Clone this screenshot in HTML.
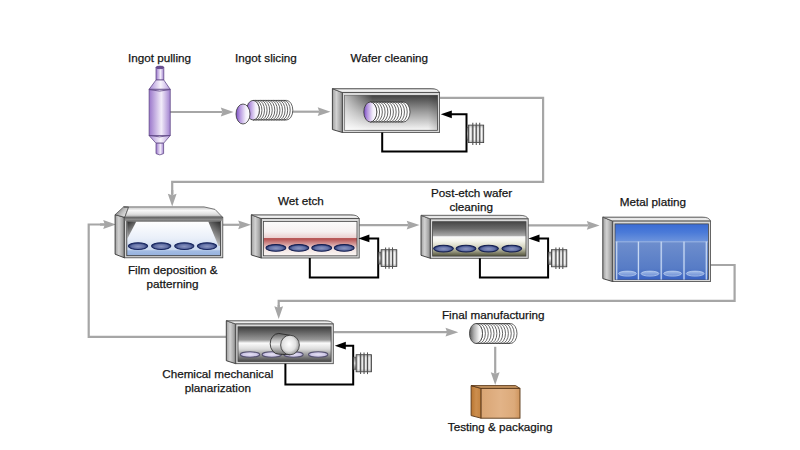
<!DOCTYPE html>
<html><head><meta charset="utf-8"><style>
html,body{margin:0;padding:0;background:#fff;}
svg{display:block;}
text{font-family:"Liberation Sans",sans-serif;fill:#151515;stroke:#151515;stroke-width:0.25px;}
</style></head><body>
<svg width="800" height="450" viewBox="0 0 800 450">
<rect width="800" height="450" fill="#fff"/>

<defs>
<linearGradient id="side" x1="0" y1="0" x2="1" y2="0">
 <stop offset="0" stop-color="#9e9e9e"/><stop offset="0.4" stop-color="#d2d2d2"/><stop offset="0.8" stop-color="#a4a4a4"/><stop offset="1" stop-color="#707070"/>
</linearGradient>
<linearGradient id="topf" x1="0" y1="0" x2="0" y2="1">
 <stop offset="0" stop-color="#9a9a9a"/><stop offset="0.4" stop-color="#f4f4f4"/><stop offset="1" stop-color="#d8d8d8"/>
</linearGradient>
<linearGradient id="topfilm" x1="0" y1="0" x2="0" y2="1">
 <stop offset="0" stop-color="#c4c4c4"/><stop offset="0.35" stop-color="#f8f8f8"/><stop offset="0.7" stop-color="#e0e0e0"/><stop offset="1" stop-color="#a8a8a8"/>
</linearGradient>
<linearGradient id="filmBand" x1="0" y1="0" x2="0" y2="1">
 <stop offset="0" stop-color="#6a6a6a"/><stop offset="1" stop-color="#a8a8a8"/>
</linearGradient>
<linearGradient id="bevel" x1="0" y1="0" x2="1" y2="0.6">
 <stop offset="0" stop-color="#5a5a5a"/><stop offset="0.6" stop-color="#bdbdbd"/><stop offset="1" stop-color="#e8e8e8"/>
</linearGradient>
<linearGradient id="inWC" x1="0" y1="0" x2="0" y2="1">
 <stop offset="0" stop-color="#434343"/><stop offset="0.5" stop-color="#a2a2a2"/><stop offset="1" stop-color="#f8f8f8"/>
</linearGradient>
<linearGradient id="inWCh" x1="0" y1="0" x2="1" y2="0">
 <stop offset="0" stop-color="#fff" stop-opacity="0.65"/><stop offset="0.3" stop-color="#fff" stop-opacity="0"/><stop offset="0.9" stop-color="#000" stop-opacity="0"/><stop offset="1" stop-color="#000" stop-opacity="0.15"/>
</linearGradient>
<linearGradient id="inFilm" x1="0" y1="0" x2="0" y2="1">
 <stop offset="0" stop-color="#ffffff"/><stop offset="0.5" stop-color="#e9eff9"/><stop offset="0.82" stop-color="#cbd9ef"/><stop offset="0.86" stop-color="#a3bce3"/><stop offset="1" stop-color="#95b1de"/>
</linearGradient>
<linearGradient id="curtL" x1="0" y1="0" x2="0.4" y2="1">
 <stop offset="0" stop-color="#2e2e2e"/><stop offset="1" stop-color="#bdbdbd"/>
</linearGradient>
<linearGradient id="curtR" x1="1" y1="0" x2="0.6" y2="1">
 <stop offset="0" stop-color="#2e2e2e"/><stop offset="0.6" stop-color="#8a8a8a"/><stop offset="1" stop-color="#d5d5d5"/>
</linearGradient>
<linearGradient id="inWet" x1="0" y1="0" x2="0" y2="1">
 <stop offset="0" stop-color="#fbfbfb"/><stop offset="0.3" stop-color="#f6f0f0"/><stop offset="0.47" stop-color="#ecd2d2"/><stop offset="0.5" stop-color="#b34c4c"/><stop offset="0.66" stop-color="#d59a9a"/><stop offset="0.8" stop-color="#f2e2e0"/><stop offset="1" stop-color="#fbf7f5"/>
</linearGradient>
<linearGradient id="inPost" x1="0" y1="0" x2="0" y2="1">
 <stop offset="0" stop-color="#474747"/><stop offset="0.2" stop-color="#6a6a6a"/><stop offset="0.4" stop-color="#a6a6a6"/><stop offset="0.44" stop-color="#f8f8f8"/><stop offset="0.56" stop-color="#f6f6ee"/><stop offset="0.75" stop-color="#d2d2bc"/><stop offset="1" stop-color="#52523a"/>
</linearGradient>
<linearGradient id="inCMP" x1="0" y1="0" x2="0" y2="1">
 <stop offset="0" stop-color="#3e3e3e"/><stop offset="0.38" stop-color="#9a9a9a"/><stop offset="0.47" stop-color="#fbfbfb"/><stop offset="0.64" stop-color="#dcdcdc"/><stop offset="1" stop-color="#484848"/>
</linearGradient>
<linearGradient id="inMetal" x1="0" y1="0" x2="0" y2="1">
 <stop offset="0" stop-color="#3a6bd4"/><stop offset="0.15" stop-color="#4a7ad8"/><stop offset="0.33" stop-color="#7096dc"/><stop offset="0.34" stop-color="#5a86d6"/><stop offset="1" stop-color="#2f5cc0"/>
</linearGradient>
<linearGradient id="tank" x1="0" y1="0" x2="0" y2="1">
 <stop offset="0" stop-color="#6e8ecd"/><stop offset="0.7" stop-color="#577cc6"/><stop offset="0.85" stop-color="#4a70c2"/><stop offset="1" stop-color="#3862c4"/>
</linearGradient>
<linearGradient id="sep" x1="0" y1="0" x2="1" y2="0">
 <stop offset="0" stop-color="#c8dbf6" stop-opacity="0.2"/><stop offset="0.5" stop-color="#d6e4f8" stop-opacity="0.95"/><stop offset="1" stop-color="#c8dbf6" stop-opacity="0.2"/>
</linearGradient>
<linearGradient id="tankEl" x1="0" y1="0" x2="0" y2="1">
 <stop offset="0" stop-color="#a4bde8"/><stop offset="1" stop-color="#6d8fd6"/>
</linearGradient>
<linearGradient id="pumpBody" x1="0" y1="0" x2="1" y2="0">
 <stop offset="0" stop-color="#8e8e8e"/><stop offset="0.15" stop-color="#fafafa"/><stop offset="0.29" stop-color="#a0a0a0"/>
 <stop offset="0.40" stop-color="#fafafa"/><stop offset="0.516" stop-color="#a0a0a0"/>
 <stop offset="0.63" stop-color="#fafafa"/><stop offset="0.74" stop-color="#a0a0a0"/>
 <stop offset="0.86" stop-color="#fafafa"/><stop offset="1" stop-color="#909090"/>
</linearGradient>
<linearGradient id="pumpV" x1="0" y1="0" x2="0" y2="1">
 <stop offset="0" stop-color="#555" stop-opacity="0.35"/><stop offset="0.18" stop-color="#555" stop-opacity="0"/><stop offset="0.82" stop-color="#555" stop-opacity="0"/><stop offset="1" stop-color="#555" stop-opacity="0.35"/>
</linearGradient>
<linearGradient id="pumpNeck" x1="0" y1="0" x2="0" y2="1">
 <stop offset="0" stop-color="#888"/><stop offset="0.5" stop-color="#eee"/><stop offset="1" stop-color="#777"/>
</linearGradient>
<linearGradient id="ingot" x1="0" y1="0" x2="1" y2="0">
 <stop offset="0" stop-color="#9a76cb"/><stop offset="0.58" stop-color="#f2ecf9"/><stop offset="1" stop-color="#a282d0"/>
</linearGradient>
<linearGradient id="cone" x1="0" y1="0" x2="1" y2="0">
 <stop offset="0" stop-color="#a88ad6"/><stop offset="0.55" stop-color="#f8f4fc"/><stop offset="1" stop-color="#b89ede"/>
</linearGradient>
<linearGradient id="purpleFront" x1="0" y1="0" x2="1" y2="0">
 <stop offset="0" stop-color="#7a4cc4"/><stop offset="0.3" stop-color="#b89ae0"/><stop offset="0.7" stop-color="#f2eefa"/><stop offset="1" stop-color="#ffffff"/>
</linearGradient>
<linearGradient id="grayFront" x1="0" y1="0" x2="1" y2="0">
 <stop offset="0" stop-color="#5a5a5a"/><stop offset="0.35" stop-color="#b0b0b0"/><stop offset="0.75" stop-color="#f4f4f4"/><stop offset="1" stop-color="#ffffff"/>
</linearGradient>
<radialGradient id="waferB" cx="0.5" cy="0.55" r="0.5">
 <stop offset="0" stop-color="#8c96c0"/><stop offset="0.65" stop-color="#6270a6"/><stop offset="1" stop-color="#26366e"/>
</radialGradient>
<radialGradient id="waferL" cx="0.5" cy="0.5" r="0.5">
 <stop offset="0" stop-color="#e4e0f2"/><stop offset="0.7" stop-color="#cfc8e6"/><stop offset="1" stop-color="#b0a8d4"/>
</radialGradient>
<linearGradient id="boxFront" x1="0" y1="0" x2="1" y2="0">
 <stop offset="0" stop-color="#d9a574"/><stop offset="0.5" stop-color="#e2b387"/><stop offset="0.85" stop-color="#dcaa7a"/><stop offset="1" stop-color="#cf955e"/>
</linearGradient>
<linearGradient id="boxSide" x1="0" y1="0" x2="1" y2="0">
 <stop offset="0" stop-color="#b87530"/><stop offset="0.5" stop-color="#cc8e4e"/><stop offset="1" stop-color="#c3823f"/>
</linearGradient>
<radialGradient id="roller" cx="0.45" cy="0.45" r="0.6">
 <stop offset="0" stop-color="#ffffff"/><stop offset="0.6" stop-color="#e0e0e0"/><stop offset="1" stop-color="#8a8a8a"/>
</radialGradient>
<linearGradient id="rollerBody" x1="0" y1="0" x2="0" y2="1">
 <stop offset="0" stop-color="#5e5e5e"/><stop offset="0.5" stop-color="#f2f2f2"/><stop offset="1" stop-color="#6a6a6a"/>
</linearGradient>
</defs>

<line x1="170" y1="112" x2="222.39999999999998" y2="112" stroke="#a6a6a6" stroke-width="2.2"/>
<polygon points="233.6,112 220.79999999999998,107.6 222.39999999999998,112 220.79999999999998,116.4" fill="#a6a6a6"/>
<line x1="292" y1="111.7" x2="319.3" y2="111.7" stroke="#a6a6a6" stroke-width="2.2"/>
<polygon points="330.5,111.7 317.7,107.3 319.3,111.7 317.7,116.10000000000001" fill="#a6a6a6"/>
<polyline points="440,97.8 543.1,97.8 543.1,181.8 172.2,181.8 172.2,194" fill="none" stroke="#a6a6a6" stroke-width="2.2" stroke-linejoin="miter"/>
<line x1="172.2" y1="190" x2="172.2" y2="195.29999999999998" stroke="#a6a6a6" stroke-width="2.2"/>
<polygon points="172.2,206.5 167.79999999999998,193.7 172.2,195.29999999999998 176.6,193.7" fill="#a6a6a6"/>
<line x1="222.8" y1="224.8" x2="239.79999999999998" y2="224.8" stroke="#a6a6a6" stroke-width="2.2"/>
<polygon points="251,224.8 238.2,220.4 239.79999999999998,224.8 238.2,229.20000000000002" fill="#a6a6a6"/>
<line x1="359.2" y1="225.1" x2="408.3" y2="225.1" stroke="#a6a6a6" stroke-width="2.2"/>
<polygon points="419.5,225.1 406.7,220.7 408.3,225.1 406.7,229.5" fill="#a6a6a6"/>
<line x1="528" y1="225.4" x2="588.4000000000001" y2="225.4" stroke="#a6a6a6" stroke-width="2.2"/>
<polygon points="599.6,225.4 586.8000000000001,221.0 588.4000000000001,225.4 586.8000000000001,229.8" fill="#a6a6a6"/>
<polyline points="710.4,265 734.6,265 734.6,300.8 278.7,300.8 278.7,308" fill="none" stroke="#a6a6a6" stroke-width="2.2" stroke-linejoin="miter"/>
<line x1="278.7" y1="305" x2="278.7" y2="307.8" stroke="#a6a6a6" stroke-width="2.2"/>
<polygon points="278.7,319 274.3,306.2 278.7,307.8 283.09999999999997,306.2" fill="#a6a6a6"/>
<polyline points="226,336.8 88.7,336.8 88.7,224.5 106,224.5" fill="none" stroke="#a6a6a6" stroke-width="2.2" stroke-linejoin="miter"/>
<line x1="100" y1="224.5" x2="104.8" y2="224.5" stroke="#a6a6a6" stroke-width="2.2"/>
<polygon points="116,224.5 103.2,220.1 104.8,224.5 103.2,228.9" fill="#a6a6a6"/>
<line x1="333.7" y1="332.2" x2="447.1" y2="332.2" stroke="#a6a6a6" stroke-width="2.2"/>
<polygon points="458.3,332.2 445.5,327.8 447.1,332.2 445.5,336.59999999999997" fill="#a6a6a6"/>
<line x1="495.2" y1="346.8" x2="495.2" y2="373.8" stroke="#a6a6a6" stroke-width="2.2"/>
<polygon points="495.2,385 490.8,372.2 495.2,373.8 499.59999999999997,372.2" fill="#a6a6a6"/>
<path d="M156,67.4 L163.8,67.4 L163.8,80 L156,80 Z" fill="url(#ingot)" stroke="#5e4684" stroke-width="0.75"/>
<ellipse cx="159.9" cy="67.4" rx="3.9" ry="1.3" fill="#6a4c92" stroke="#5e4684" stroke-width="0.75"/>
<polygon points="156,80 163.8,80 170.2,89.3 149.1,89.3" fill="url(#cone)" stroke="#5e4684" stroke-width="0.75"/>
<rect x="149.1" y="89.3" width="21.1" height="46.3" fill="url(#ingot)" stroke="#5e4684" stroke-width="0.75"/>
<path d="M149.1,89.6 Q159.6,92.6 170.2,89.6" fill="none" stroke="#5e4684" stroke-width="0.8"/>
<polygon points="149.1,135.6 170.2,135.6 163.6,143.2 156,143.2" fill="url(#cone)" stroke="#5e4684" stroke-width="0.75"/>
<path d="M149.1,135.4 Q159.6,138.4 170.2,135.4" fill="none" stroke="#5e4684" stroke-width="0.8"/>
<path d="M156,143.2 L163.6,143.2 L163.6,153.6 Q159.8,156.2 156,153.6 Z" fill="url(#ingot)" stroke="#5e4684" stroke-width="0.75"/>
<rect x="253" y="100.4" width="33.43000000000001" height="19.6" fill="#fff"/>
<path d="M286.43,100.4 A6.370000000000001,9.8 0 0 1 286.43,120.0" fill="#fff" stroke="#333" stroke-width="0.75"/>
<path d="M283.85846153846154,100.4 A6.370000000000001,9.8 0 0 1 283.85846153846154,120.0" fill="#fff" stroke="#333" stroke-width="0.75"/>
<path d="M281.2869230769231,100.4 A6.370000000000001,9.8 0 0 1 281.2869230769231,120.0" fill="#fff" stroke="#333" stroke-width="0.75"/>
<path d="M278.7153846153846,100.4 A6.370000000000001,9.8 0 0 1 278.7153846153846,120.0" fill="#fff" stroke="#333" stroke-width="0.75"/>
<path d="M276.14384615384614,100.4 A6.370000000000001,9.8 0 0 1 276.14384615384614,120.0" fill="#fff" stroke="#333" stroke-width="0.75"/>
<path d="M273.5723076923077,100.4 A6.370000000000001,9.8 0 0 1 273.5723076923077,120.0" fill="#fff" stroke="#333" stroke-width="0.75"/>
<path d="M271.0007692307692,100.4 A6.370000000000001,9.8 0 0 1 271.0007692307692,120.0" fill="#fff" stroke="#333" stroke-width="0.75"/>
<path d="M268.4292307692308,100.4 A6.370000000000001,9.8 0 0 1 268.4292307692308,120.0" fill="#fff" stroke="#333" stroke-width="0.75"/>
<path d="M265.85769230769233,100.4 A6.370000000000001,9.8 0 0 1 265.85769230769233,120.0" fill="#fff" stroke="#333" stroke-width="0.75"/>
<path d="M263.28615384615387,100.4 A6.370000000000001,9.8 0 0 1 263.28615384615387,120.0" fill="#fff" stroke="#333" stroke-width="0.75"/>
<path d="M260.7146153846154,100.4 A6.370000000000001,9.8 0 0 1 260.7146153846154,120.0" fill="#fff" stroke="#333" stroke-width="0.75"/>
<path d="M258.14307692307693,100.4 A6.370000000000001,9.8 0 0 1 258.14307692307693,120.0" fill="#fff" stroke="#333" stroke-width="0.75"/>
<path d="M255.57153846153847,100.4 A6.370000000000001,9.8 0 0 1 255.57153846153847,120.0" fill="#fff" stroke="#333" stroke-width="0.75"/>
<path d="M253.0,100.4 A6.370000000000001,9.8 0 0 1 253.0,120.0" fill="#fff" stroke="#333" stroke-width="0.75"/>
<line x1="253" y1="100.4" x2="286.43" y2="100.4" stroke="#333" stroke-width="0.75"/>
<line x1="253" y1="120.0" x2="286.43" y2="120.0" stroke="#333" stroke-width="0.75"/>
<ellipse cx="253" cy="110.2" rx="6.370000000000001" ry="9.8" fill="url(#purpleFront)" stroke="#333" stroke-width="0.8"/>
<ellipse cx="243" cy="114" rx="7" ry="10" fill="url(#purpleFront)" stroke="#333" stroke-width="0.8"/>
<polygon points="332.4,88.6 342.5,92.6 342.5,132.5 332.4,129.5" fill="url(#side)" stroke="#333" stroke-width="0.9"/>
<path d="M332.4,88.6 L431.1,88.6 Q438.1,88.6 439.6,92.6 L342.5,92.6 Z" fill="url(#topf)" stroke="#555" stroke-width="0.8"/>
<rect x="342.5" y="92.6" width="97.10000000000002" height="39.900000000000006" fill="#d9d9d9" stroke="#444" stroke-width="0.8"/>
<rect x="344.7" y="95.39999999999999" width="92.70000000000002" height="34.900000000000006" fill="url(#inWC)" stroke="#464646" stroke-width="0.8"/>
<rect x="344.7" y="95.4" width="92.7" height="34.9" fill="url(#inWCh)"/>
<rect x="370.3" y="102" width="33.19999999999999" height="20" fill="#fff"/>
<path d="M403.5,102 A6.5,10 0 0 1 403.5,122" fill="#fff" stroke="#333" stroke-width="0.75"/>
<path d="M400.73333333333335,102 A6.5,10 0 0 1 400.73333333333335,122" fill="#fff" stroke="#333" stroke-width="0.75"/>
<path d="M397.9666666666667,102 A6.5,10 0 0 1 397.9666666666667,122" fill="#fff" stroke="#333" stroke-width="0.75"/>
<path d="M395.2,102 A6.5,10 0 0 1 395.2,122" fill="#fff" stroke="#333" stroke-width="0.75"/>
<path d="M392.43333333333334,102 A6.5,10 0 0 1 392.43333333333334,122" fill="#fff" stroke="#333" stroke-width="0.75"/>
<path d="M389.6666666666667,102 A6.5,10 0 0 1 389.6666666666667,122" fill="#fff" stroke="#333" stroke-width="0.75"/>
<path d="M386.9,102 A6.5,10 0 0 1 386.9,122" fill="#fff" stroke="#333" stroke-width="0.75"/>
<path d="M384.1333333333333,102 A6.5,10 0 0 1 384.1333333333333,122" fill="#fff" stroke="#333" stroke-width="0.75"/>
<path d="M381.3666666666667,102 A6.5,10 0 0 1 381.3666666666667,122" fill="#fff" stroke="#333" stroke-width="0.75"/>
<path d="M378.6,102 A6.5,10 0 0 1 378.6,122" fill="#fff" stroke="#333" stroke-width="0.75"/>
<path d="M375.83333333333337,102 A6.5,10 0 0 1 375.83333333333337,122" fill="#fff" stroke="#333" stroke-width="0.75"/>
<path d="M373.06666666666666,102 A6.5,10 0 0 1 373.06666666666666,122" fill="#fff" stroke="#333" stroke-width="0.75"/>
<path d="M370.3,102 A6.5,10 0 0 1 370.3,122" fill="#fff" stroke="#333" stroke-width="0.75"/>
<line x1="370.3" y1="102" x2="403.5" y2="102" stroke="#333" stroke-width="0.75"/>
<line x1="370.3" y1="122" x2="403.5" y2="122" stroke="#333" stroke-width="0.75"/>
<ellipse cx="370.3" cy="112" rx="6.5" ry="10" fill="url(#purpleFront)" stroke="#333" stroke-width="0.8"/>
<polyline points="382.2,132.5 382.2,151.6 466.5,151.6 466.5,114.3 450.8,114.3" fill="none" stroke="#000" stroke-width="2"/>
<polygon points="440.8,114.3 451.8,110.39999999999999 451.8,118.2" fill="#000"/>
<rect x="467.1" y="127.5" width="1.2000000000000113" height="12.7" fill="url(#pumpNeck)" stroke="#555" stroke-width="0.6"/>
<rect x="468.3" y="125.1" width="15.399999999999977" height="17.5" fill="url(#pumpBody)" stroke="#3a3a3a" stroke-width="0.8"/>
<rect x="468.3" y="125.1" width="15.399999999999977" height="17.5" fill="url(#pumpV)"/>
<line x1="472.8" y1="122.8" x2="472.8" y2="144.9" stroke="#505050" stroke-width="1.05"/>
<line x1="476.25" y1="122.8" x2="476.25" y2="144.9" stroke="#505050" stroke-width="1.05"/>
<line x1="479.7" y1="122.8" x2="479.7" y2="144.9" stroke="#505050" stroke-width="1.05"/>
<polygon points="115.1,214.7 124.4,217.3 124.4,257.8 115.1,254.2" fill="url(#side)" stroke="#333" stroke-width="0.9"/>
<polygon points="115.1,214.7 123.6,206.9 128.6,207.2 124.8,217.3" fill="url(#bevel)" stroke="#444" stroke-width="0.7"/>
<path d="M128.6,207.2 L123.6,206.9 L204,206.9 L215,209.4 L222.3,216.9 L124.8,217.3 Z" fill="url(#topfilm)" stroke="#555" stroke-width="0.8"/>
<rect x="124.4" y="217.3" width="98.4" height="40.5" fill="#d4d4d4" stroke="#444" stroke-width="0.8"/>
<rect x="124.8" y="217.7" width="97.6" height="3.4" fill="url(#filmBand)"/>
<rect x="126.8" y="221.1" width="93.6" height="34.6" fill="url(#inFilm)" stroke="#333" stroke-width="0.8"/>
<polygon points="127.2,221.5 136.3,221.5 127.2,239" fill="url(#curtL)"/>
<polygon points="220,221.5 208.3,221.5 218.5,246 220,246" fill="url(#curtR)"/>
<ellipse cx="138" cy="246.1" rx="9.7" ry="3.4" fill="url(#waferB)" stroke="#182660" stroke-width="1.05"/>
<ellipse cx="161.2" cy="246.1" rx="9.7" ry="3.4" fill="url(#waferB)" stroke="#182660" stroke-width="1.05"/>
<ellipse cx="184.3" cy="246.1" rx="9.7" ry="3.4" fill="url(#waferB)" stroke="#182660" stroke-width="1.05"/>
<ellipse cx="207" cy="246.1" rx="9.7" ry="3.4" fill="url(#waferB)" stroke="#182660" stroke-width="1.05"/>
<polygon points="251.3,214.8 261.3,218.6 261.3,258 251.3,255" fill="url(#side)" stroke="#333" stroke-width="0.9"/>
<path d="M251.3,214.8 L350.7,214.8 Q357.7,214.8 359.2,218.6 L261.3,218.6 Z" fill="url(#topf)" stroke="#555" stroke-width="0.8"/>
<rect x="261.3" y="218.6" width="97.89999999999998" height="39.400000000000006" fill="#d9d9d9" stroke="#444" stroke-width="0.8"/>
<rect x="263.5" y="221.39999999999998" width="93.49999999999997" height="34.400000000000006" fill="url(#inWet)" stroke="#464646" stroke-width="0.8"/>
<ellipse cx="275.9" cy="247.9" rx="10.0" ry="3.3" fill="url(#waferB)" stroke="#141e50" stroke-width="1.05"/>
<ellipse cx="298.8" cy="247.9" rx="10.0" ry="3.3" fill="url(#waferB)" stroke="#141e50" stroke-width="1.05"/>
<ellipse cx="321.7" cy="247.9" rx="10.0" ry="3.3" fill="url(#waferB)" stroke="#141e50" stroke-width="1.05"/>
<ellipse cx="344.2" cy="247.9" rx="10.0" ry="3.3" fill="url(#waferB)" stroke="#141e50" stroke-width="1.05"/>
<polyline points="309.8,258 309.8,277.4 378.2,277.4 378.2,238.4 368.4,238.4" fill="none" stroke="#000" stroke-width="2"/>
<polygon points="358.4,238.4 369.4,234.5 369.4,242.3" fill="#000"/>
<rect x="378.8" y="252.1" width="2.300000000000034" height="12.00000000000001" fill="url(#pumpNeck)" stroke="#555" stroke-width="0.6"/>
<rect x="381.1" y="249.7" width="15.699999999999989" height="16.80000000000001" fill="url(#pumpBody)" stroke="#3a3a3a" stroke-width="0.8"/>
<rect x="381.1" y="249.7" width="15.699999999999989" height="16.80000000000001" fill="url(#pumpV)"/>
<line x1="385.6" y1="247.39999999999998" x2="385.6" y2="268.8" stroke="#505050" stroke-width="1.05"/>
<line x1="389.05" y1="247.39999999999998" x2="389.05" y2="268.8" stroke="#505050" stroke-width="1.05"/>
<line x1="392.5" y1="247.39999999999998" x2="392.5" y2="268.8" stroke="#505050" stroke-width="1.05"/>
<polygon points="421,215.3 430.4,218.9 430.4,258.3 421,255.3" fill="url(#side)" stroke="#333" stroke-width="0.9"/>
<path d="M421,215.3 L519.7,215.3 Q526.7,215.3 528.2,218.9 L430.4,218.9 Z" fill="url(#topf)" stroke="#555" stroke-width="0.8"/>
<rect x="430.4" y="218.9" width="97.80000000000007" height="39.400000000000006" fill="#d9d9d9" stroke="#444" stroke-width="0.8"/>
<rect x="432.59999999999997" y="221.7" width="93.40000000000006" height="34.400000000000006" fill="url(#inPost)" stroke="#464646" stroke-width="0.8"/>
<ellipse cx="443.5" cy="248.6" rx="9.9" ry="3.3" fill="url(#waferB)" stroke="#141e50" stroke-width="1.05"/>
<ellipse cx="466" cy="248.6" rx="9.9" ry="3.3" fill="url(#waferB)" stroke="#141e50" stroke-width="1.05"/>
<ellipse cx="488.5" cy="248.6" rx="9.9" ry="3.3" fill="url(#waferB)" stroke="#141e50" stroke-width="1.05"/>
<ellipse cx="511.8" cy="248.6" rx="9.9" ry="3.3" fill="url(#waferB)" stroke="#141e50" stroke-width="1.05"/>
<polyline points="479.9,258.3 479.9,277.5 548.1,277.5 548.1,238.4 538.5,238.4" fill="none" stroke="#000" stroke-width="2"/>
<polygon points="528.5,238.4 539.5,234.5 539.5,242.3" fill="#000"/>
<rect x="548.7" y="252.1" width="2.6999999999999544" height="12.300000000000022" fill="url(#pumpNeck)" stroke="#555" stroke-width="0.6"/>
<rect x="551.4" y="249.7" width="15.399999999999977" height="17.100000000000023" fill="url(#pumpBody)" stroke="#3a3a3a" stroke-width="0.8"/>
<rect x="551.4" y="249.7" width="15.399999999999977" height="17.100000000000023" fill="url(#pumpV)"/>
<line x1="555.9" y1="247.39999999999998" x2="555.9" y2="269.1" stroke="#505050" stroke-width="1.05"/>
<line x1="559.35" y1="247.39999999999998" x2="559.35" y2="269.1" stroke="#505050" stroke-width="1.05"/>
<line x1="562.8" y1="247.39999999999998" x2="562.8" y2="269.1" stroke="#505050" stroke-width="1.05"/>
<polygon points="602.8,217.1 612.8,221.1 612.8,281.6 602.8,278.6" fill="url(#side)" stroke="#333" stroke-width="0.9"/>
<path d="M602.8,217.1 L702.1,217.1 Q709.1,217.1 710.6,221.1 L612.8,221.1 Z" fill="url(#topf)" stroke="#555" stroke-width="0.8"/>
<rect x="612.8" y="221.1" width="97.80000000000007" height="60.50000000000003" fill="#d9d9d9" stroke="#444" stroke-width="0.8"/>
<rect x="615.0" y="223.89999999999998" width="93.40000000000006" height="55.50000000000003" fill="url(#inMetal)" stroke="#464646" stroke-width="0.8"/>
<rect x="615.6" y="241.6" width="92.4" height="38" fill="url(#tank)"/>
<rect x="615.6" y="241.2" width="92.4" height="1.2" fill="#9db8e6" opacity="0.8"/>
<rect x="615.6" y="241.6" width="2.2" height="38" fill="url(#sep)"/>
<rect x="637.3" y="241.6" width="2.2" height="38" fill="url(#sep)"/>
<rect x="660.1" y="241.6" width="2.2" height="38" fill="url(#sep)"/>
<rect x="682.9" y="241.6" width="2.2" height="38" fill="url(#sep)"/>
<rect x="705.1999999999999" y="241.6" width="2.2" height="38" fill="url(#sep)"/>
<ellipse cx="627.5" cy="273.6" rx="8.9" ry="2.5" fill="url(#tankEl)" stroke="#c2d4f2" stroke-width="0.7"/>
<ellipse cx="650" cy="273.6" rx="8.9" ry="2.5" fill="url(#tankEl)" stroke="#c2d4f2" stroke-width="0.7"/>
<ellipse cx="672.6" cy="273.6" rx="8.9" ry="2.5" fill="url(#tankEl)" stroke="#c2d4f2" stroke-width="0.7"/>
<ellipse cx="695.2" cy="273.6" rx="8.9" ry="2.5" fill="url(#tankEl)" stroke="#c2d4f2" stroke-width="0.7"/>
<polygon points="226.3,320.7 235.8,324 235.8,363.7 226.3,360.7" fill="url(#side)" stroke="#333" stroke-width="0.9"/>
<path d="M226.3,320.7 L324.8,320.7 Q331.8,320.7 333.3,324 L235.8,324 Z" fill="url(#topf)" stroke="#555" stroke-width="0.8"/>
<rect x="235.8" y="324" width="97.5" height="39.69999999999999" fill="#d9d9d9" stroke="#444" stroke-width="0.8"/>
<rect x="238.0" y="326.8" width="93.1" height="34.69999999999999" fill="url(#inCMP)" stroke="#464646" stroke-width="0.8"/>
<ellipse cx="250" cy="354.5" rx="9.7" ry="2.7" fill="url(#waferL)" stroke="#55526e" stroke-width="1.05"/>
<ellipse cx="271.8" cy="354.5" rx="9.7" ry="2.7" fill="url(#waferL)" stroke="#55526e" stroke-width="1.05"/>
<ellipse cx="293.5" cy="354.5" rx="9.7" ry="2.7" fill="url(#waferL)" stroke="#55526e" stroke-width="1.05"/>
<ellipse cx="318.2" cy="354.5" rx="9.7" ry="2.7" fill="url(#waferL)" stroke="#55526e" stroke-width="1.05"/>
<path d="M278.8,333.4 L290,335.3 L290,354.8 L278.8,354.2 A8.6,10.4 0 0 1 278.8,333.4 Z" fill="url(#rollerBody)" stroke="#222" stroke-width="0.8"/>
<ellipse cx="290" cy="345" rx="9.4" ry="9.8" fill="url(#roller)" stroke="#333" stroke-width="0.8"/>
<polyline points="285.4,363.7 285.4,384.6 353.2,384.6 353.2,345.7 344.8,345.7" fill="none" stroke="#000" stroke-width="2"/>
<polygon points="334.8,345.7 345.8,341.8 345.8,349.59999999999997" fill="#000"/>
<rect x="353.8" y="357.09999999999997" width="2.300000000000034" height="12.300000000000022" fill="url(#pumpNeck)" stroke="#555" stroke-width="0.6"/>
<rect x="356.1" y="354.7" width="15.299999999999955" height="17.100000000000023" fill="url(#pumpBody)" stroke="#3a3a3a" stroke-width="0.8"/>
<rect x="356.1" y="354.7" width="15.299999999999955" height="17.100000000000023" fill="url(#pumpV)"/>
<line x1="360.6" y1="352.4" x2="360.6" y2="374.1" stroke="#505050" stroke-width="1.05"/>
<line x1="364.05" y1="352.4" x2="364.05" y2="374.1" stroke="#505050" stroke-width="1.05"/>
<line x1="367.5" y1="352.4" x2="367.5" y2="374.1" stroke="#505050" stroke-width="1.05"/>
<rect x="476" y="323.5" width="34.5" height="20" fill="#fff"/>
<path d="M510.5,323.5 A6.5,10 0 0 1 510.5,343.5" fill="#fff" stroke="#333" stroke-width="0.75"/>
<path d="M507.625,323.5 A6.5,10 0 0 1 507.625,343.5" fill="#fff" stroke="#333" stroke-width="0.75"/>
<path d="M504.75,323.5 A6.5,10 0 0 1 504.75,343.5" fill="#fff" stroke="#333" stroke-width="0.75"/>
<path d="M501.875,323.5 A6.5,10 0 0 1 501.875,343.5" fill="#fff" stroke="#333" stroke-width="0.75"/>
<path d="M499.0,323.5 A6.5,10 0 0 1 499.0,343.5" fill="#fff" stroke="#333" stroke-width="0.75"/>
<path d="M496.125,323.5 A6.5,10 0 0 1 496.125,343.5" fill="#fff" stroke="#333" stroke-width="0.75"/>
<path d="M493.25,323.5 A6.5,10 0 0 1 493.25,343.5" fill="#fff" stroke="#333" stroke-width="0.75"/>
<path d="M490.375,323.5 A6.5,10 0 0 1 490.375,343.5" fill="#fff" stroke="#333" stroke-width="0.75"/>
<path d="M487.5,323.5 A6.5,10 0 0 1 487.5,343.5" fill="#fff" stroke="#333" stroke-width="0.75"/>
<path d="M484.625,323.5 A6.5,10 0 0 1 484.625,343.5" fill="#fff" stroke="#333" stroke-width="0.75"/>
<path d="M481.75,323.5 A6.5,10 0 0 1 481.75,343.5" fill="#fff" stroke="#333" stroke-width="0.75"/>
<path d="M478.875,323.5 A6.5,10 0 0 1 478.875,343.5" fill="#fff" stroke="#333" stroke-width="0.75"/>
<path d="M476.0,323.5 A6.5,10 0 0 1 476.0,343.5" fill="#fff" stroke="#333" stroke-width="0.75"/>
<line x1="476" y1="323.5" x2="510.5" y2="323.5" stroke="#333" stroke-width="0.75"/>
<line x1="476" y1="343.5" x2="510.5" y2="343.5" stroke="#333" stroke-width="0.75"/>
<ellipse cx="476" cy="333.5" rx="6.5" ry="10" fill="url(#grayFront)" stroke="#333" stroke-width="0.8"/>
<polygon points="471.1,385.6 481.1,388.4 481.1,418.2 471.1,415.6" fill="url(#boxSide)" stroke="#5a3818" stroke-width="0.9"/>
<polygon points="471.1,385.6 515.6,385.6 520,388.4 481.1,388.4" fill="#c89662" stroke="#5a3818" stroke-width="0.9"/>
<rect x="481.1" y="388.4" width="38.9" height="29.8" fill="url(#boxFront)" stroke="#5a3818" stroke-width="0.9"/>
<text x="128" y="62" font-size="11.7">Ingot pulling</text>
<text x="235.1" y="62" font-size="11.7">Ingot slicing</text>
<text x="350.6" y="62" font-size="11.7">Wafer cleaning</text>
<text x="277.9" y="205" font-size="11.7">Wet etch</text>
<text x="431" y="197.2" font-size="11.7">Post-etch wafer</text>
<text x="449.4" y="211.1" font-size="11.7">cleaning</text>
<text x="619.8" y="205.7" font-size="11.7">Metal plating</text>
<text x="127.9" y="273.7" font-size="11.7">Film deposition &amp;</text>
<text x="146.6" y="287.5" font-size="11.7">patterning</text>
<text x="441.9" y="318.9" font-size="11.7">Final manufacturing</text>
<text x="162.2" y="378" font-size="11.7">Chemical mechanical</text>
<text x="184.7" y="391.6" font-size="11.7">planarization</text>
<text x="447.8" y="431.1" font-size="11.7">Testing &amp; packaging</text>
</svg>
</body></html>
